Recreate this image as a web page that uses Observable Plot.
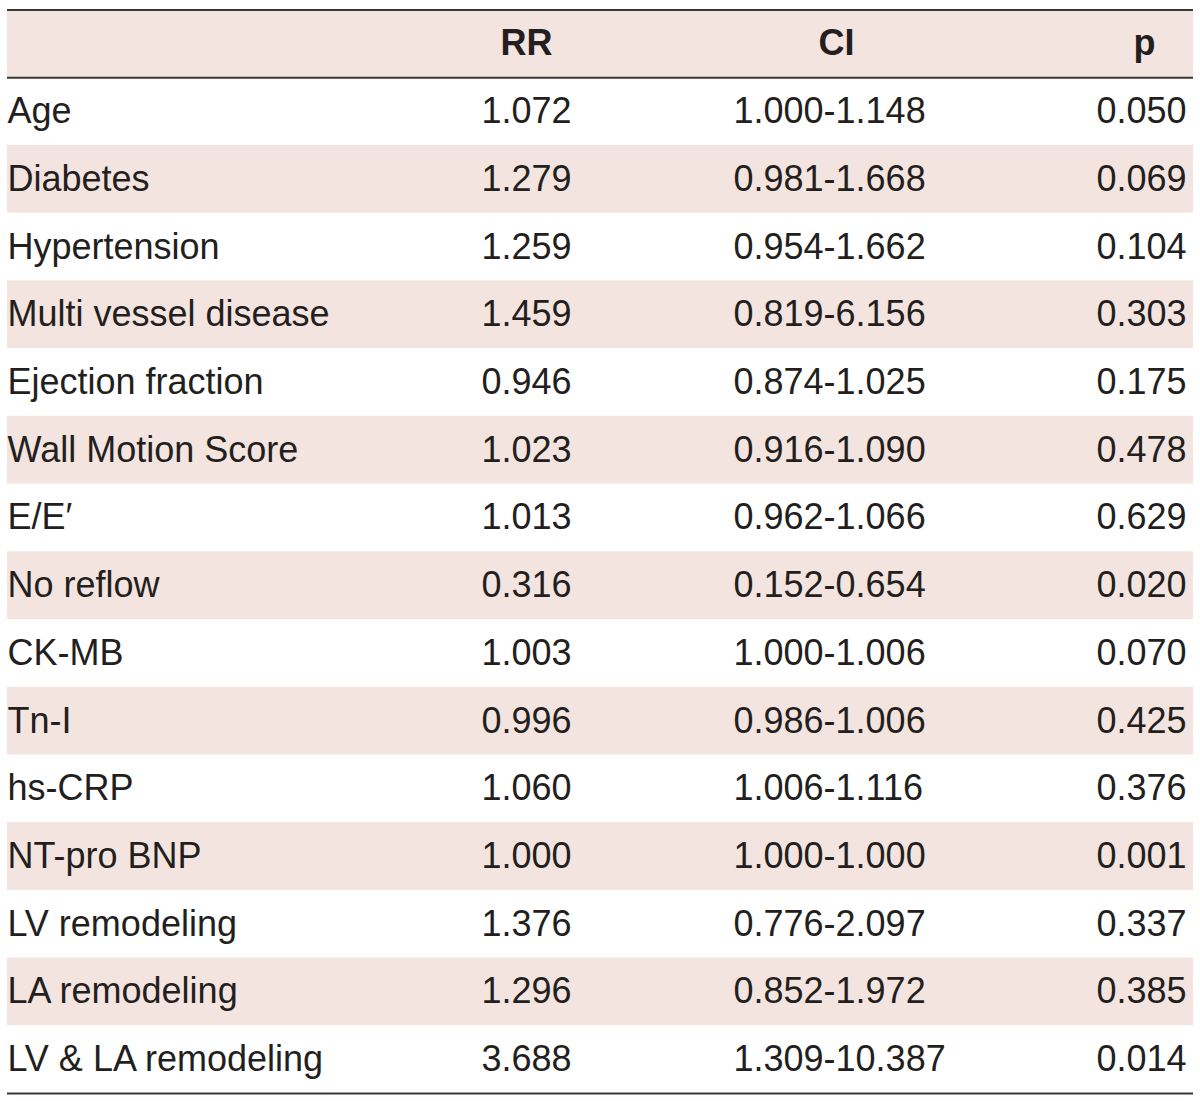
<!DOCTYPE html>
<html>
<head>
<meta charset="utf-8">
<script src="https://cdn.jsdelivr.net/npm/d3@7"></script>
<script src="https://cdn.jsdelivr.net/npm/@observablehq/plot@0.6"></script>
<style>
  html, body { margin: 0; padding: 0; background: #ffffff; }
  #chart svg { display: block; }
</style>
</head>
<body>
<div id="chart"></div>
<script>
// ---- Data ----
const headers = ["", "RR", "CI", "p"];
const variables = ["Age", "Diabetes", "Hypertension", "Multi vessel disease", "Ejection fraction",
  "Wall Motion Score", "E/E\u2032", "No reflow", "CK-MB", "Tn-I", "hs-CRP", "NT-pro BNP",
  "LV remodeling", "LA remodeling", "LV & LA remodeling"];
const rr = [1.072, 1.279, 1.259, 1.459, 0.946, 1.023, 1.013, 0.316, 1.003, 0.996, 1.060, 1.000, 1.376, 1.296, 3.688];
const ciLow = [1.000, 0.981, 0.954, 0.819, 0.874, 0.916, 0.962, 0.152, 1.000, 0.986, 1.006, 1.000, 0.776, 0.852, 1.309];
const ciHigh = [1.148, 1.668, 1.662, 6.156, 1.025, 1.090, 1.066, 0.654, 1.006, 1.006, 1.116, 1.000, 2.097, 1.972, 10.387];
const pValues = [0.050, 0.069, 0.104, 0.303, 0.175, 0.478, 0.629, 0.020, 0.070, 0.425, 0.376, 0.001, 0.337, 0.385, 0.014];

// ---- Layout (styles, not data) ----
const layout = {
  left: 7, right: 1193, top: 9.5, bottom: 1093,
  labelX: 7, rrX: 526, ciX: 733, ciHeadX: 836, pX: 1141, pHeadX: 1144,
  shade: "#f3e4df", line: "#3d3535", ink: "#231f20",
  font: "'Liberation Sans', Arial, sans-serif", size: 36, headSize: 36
};

const fmt = d3.format(".3f");
const rows = variables.map((name, i) => ({
  name, rr: fmt(rr[i]), ci: `${fmt(ciLow[i])}-${fmt(ciHigh[i])}`, p: fmt(pValues[i]), row: i + 1
}));
const nRows = rows.length + 1;
const shadedRows = [0, ...rows.filter((d, i) => i % 2 === 1).map(d => d.row)];
const headerRow = [{row: 0}];

const textOpts = {fill: layout.ink, fontSize: layout.size, fontFamily: layout.font, lineAnchor: "middle"};
const headOpts = {fill: layout.ink, fontSize: layout.headSize, fontFamily: layout.font, fontWeight: "bold", lineAnchor: "middle"};

const chart = Plot.plot({
  width: 1200,
  height: 1101,
  margin: 0,
  style: {background: "#ffffff", fontFamily: layout.font},
  x: {domain: [0, 1200], range: [0, 1200], axis: null},
  y: {domain: [0, nRows], range: [layout.top, layout.bottom], axis: null},
  marks: [
    Plot.rectY(shadedRows, {x1: layout.left, x2: layout.right, y1: d => d, y2: d => d + 1, fill: layout.shade}),
    Plot.ruleY([0, 1, nRows], {x1: layout.left, x2: layout.right, y: d => d, stroke: layout.line, strokeWidth: 2}),
    Plot.text(headerRow, {...headOpts, x: layout.rrX, y: d => d.row + 0.5, text: () => headers[1], textAnchor: "middle"}),
    Plot.text(headerRow, {...headOpts, x: layout.ciHeadX, y: d => d.row + 0.5, text: () => headers[2], textAnchor: "middle"}),
    Plot.text(headerRow, {...headOpts, x: layout.pHeadX, y: d => d.row + 0.5, text: () => headers[3], textAnchor: "middle"}),
    Plot.text(rows, {...textOpts, x: layout.labelX, y: d => d.row + 0.5, text: "name", textAnchor: "start"}),
    Plot.text(rows, {...textOpts, x: layout.rrX, y: d => d.row + 0.5, text: "rr", textAnchor: "middle"}),
    Plot.text(rows, {...textOpts, x: layout.ciX, y: d => d.row + 0.5, text: "ci", textAnchor: "start"}),
    Plot.text(rows, {...textOpts, x: layout.pX, y: d => d.row + 0.5, text: "p", textAnchor: "middle"})
  ]
});
document.getElementById("chart").appendChild(chart);
</script>
</body>
</html>
